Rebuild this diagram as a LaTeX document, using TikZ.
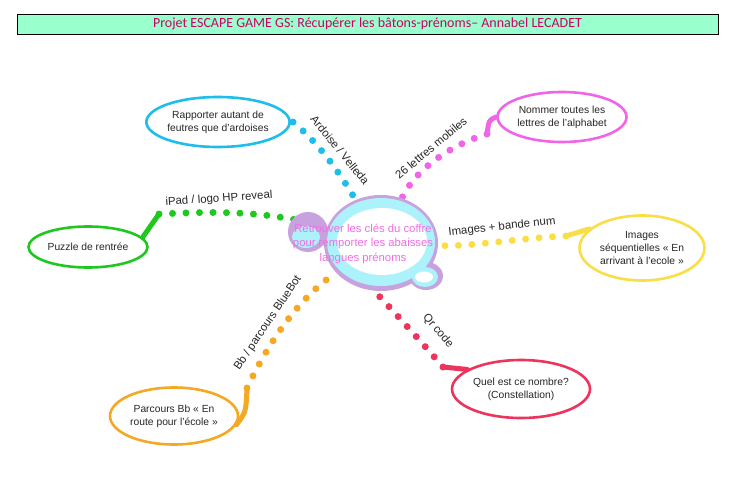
\documentclass[tikz,border=0pt]{standalone}
\usepackage{fontspec}
\setmainfont{Liberation Sans}
\newfontfamily\hdrfont{Carlito}
\usetikzlibrary{shapes.geometric, backgrounds}
\definecolor{mintbg}{RGB}{153,255,204}
\definecolor{hdrred}{RGB}{204,0,102}
\definecolor{skyblue}{RGB}{30,190,235}
\definecolor{pinkmag}{RGB}{240,100,232}
\definecolor{leafgreen}{RGB}{30,200,30}
\definecolor{sunyellow}{RGB}{250,222,70}
\definecolor{tangerine}{RGB}{245,168,35}
\definecolor{rosered}{RGB}{236,52,92}
\definecolor{lilac}{RGB}{200,162,222}
\definecolor{paleaqua}{RGB}{172,242,250}
\definecolor{hubtext}{RGB}{240,110,230}

\tikzset{
  leaf/.style={ellipse, draw=#1, line width=2.6pt, fill=white, inner sep=0pt, align=center,
    text=black!85, font=\fontsize{10.3}{13}\selectfont},
  stub/.style={#1, line width=5pt, line cap=round},
  beads/.style={#1, line width=7pt, line cap=round, dash pattern=on 0pt off 13.5pt},
  tag/.style={font=\fontsize{11.4}{13}\selectfont, text=black!85, inner sep=0.5pt},
  blob/.style={ellipse, fill=lilac, inner sep=0pt},
}

\begin{document}
\begin{tikzpicture}[x=1pt, y=-1pt]
  \useasboundingbox (0,0) rectangle (730,490);
  % header
  \node[draw=black, line width=0.8pt, fill=mintbg, minimum width=701pt, minimum height=20pt, inner sep=0pt,
    font=\hdrfont\fontsize{14}{15}\selectfont, text=hdrred] (title) at (367.5,24)
    {Projet ESCAPE GAME GS: Récupérer les bâtons-prénoms– Annabel LECADET};

  % central bubble
  \node[blob, minimum width=114pt, minimum height=96pt] (hub) at (381,243) {};
  \node[blob, minimum width=40pt, minimum height=40pt] (bubl) at (308,232) {};
  \node[blob, minimum width=34pt, minimum height=28pt] (bubr) at (426,276) {};
  \fill[paleaqua] (381,242) ellipse [x radius=54, y radius=44];
  \fill[paleaqua] (306,237) ellipse [x radius=14, y radius=11];
  \fill[paleaqua] (425,277) ellipse [x radius=13, y radius=10];
  \fill[white] (382,241.5) ellipse [x radius=45, y radius=33.5];
  \fill[white] (424,277) ellipse [x radius=9, y radius=5.5];
  \node[text=hubtext, align=center, font=\fontsize{11.3}{14.5}\selectfont] (goal) at (363,244)
    {Retrouver les clés du coffre\\pour remporter les abaisses\\langues prénoms};

  % leaves
  \node[leaf=skyblue, minimum width=137pt, minimum height=50pt] (ardo) at (218,122) {Rapporter autant de\\feutres que d'ardoises};
  \node[leaf=pinkmag, minimum width=129pt, minimum height=50pt] (alpha) at (562,117) {Nommer toutes les\\lettres de l'alphabet};
  \node[leaf=leafgreen, minimum width=119pt, minimum height=41pt] (puzz) at (88,247) {Puzzle de rentrée};
  \node[leaf=sunyellow, minimum width=125pt, minimum height=65pt] (seq) at (642,248) {Images\\séquentielles « En\\arrivant à l'ecole »};
  \node[leaf=tangerine, minimum width=128pt, minimum height=57pt] (route) at (174,416) {Parcours Bb « En\\route pour l'école »};
  \node[leaf=rosered, minimum width=138pt, minimum height=58pt] (nomb) at (521,389) {Quel est ce nombre?\\(Constellation)};

  \coordinate (sa) at (293,122);
  \coordinate (sb) at (487,134);
  \coordinate (sc) at (159,214);
  \coordinate (sd) at (566,236);
  \coordinate (se) at (247,388);
  \coordinate (sf) at (443,367);

  \draw[stub=skyblue] (ardo) -- (sa);
  \draw[stub=pinkmag] (alpha.west) .. controls (489,120) .. (sb);
  \draw[stub=leafgreen] (puzz.10) -- (sc);
  \draw[stub=sunyellow] (seq.160) -- (sd);
  \draw[stub=tangerine] (route.-8) .. controls (246,412) .. (se);
  \draw[stub=rosered] (nomb.160) -- (sf);

  \begin{scope}[on background layer]
    \draw[beads=skyblue] (sa) .. controls (315,140) and (335,165) .. (hub);
    \draw[beads=pinkmag] (sb) .. controls (450,145) and (415,170) .. (hub);
    \draw[beads=leafgreen] (sc) .. controls (220,211) and (270,211) .. (hub);
    \draw[beads=sunyellow] (sd) .. controls (520,238) and (470,247) .. (hub);
    \draw[beads=tangerine] (se) .. controls (265,350) and (295,300) .. (hub);
    \draw[beads=rosered] (sf) .. controls (420,340) and (374,290) .. (hub);
  \end{scope}

  % branch labels
  \node[tag, rotate=-51] (lba) at (340,150) {Ardoise / Velleda};
  \node[tag, rotate=40] (lbb) at (431,148) {26 lettres mobiles};
  \node[tag, rotate=4] (lbc) at (219,199) {iPad / logo HP reveal};
  \node[tag, rotate=6] (lbd) at (502,227) {Images + bande num};
  \node[tag, rotate=56] (lbe) at (268,323) {Bb / parcours BlueBot};
  \node[tag, rotate=-50] (lbf) at (438,331) {Qr code};
\end{tikzpicture}
\end{document}
